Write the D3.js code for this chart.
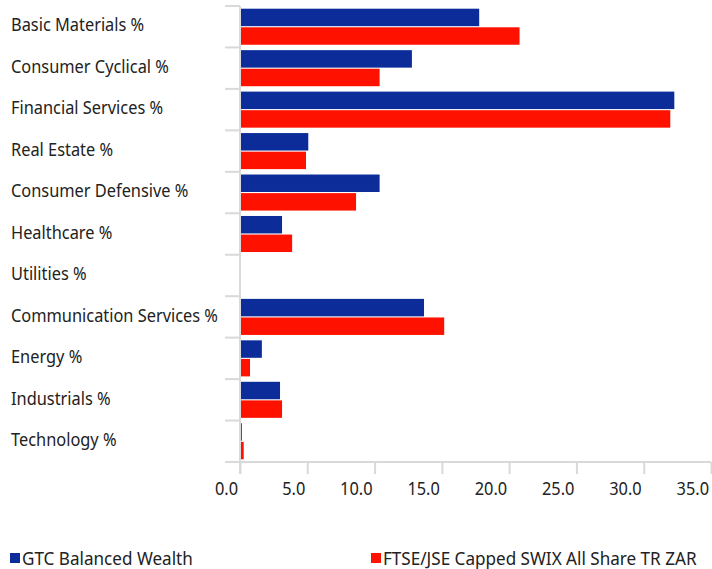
<!DOCTYPE html>
<html>
<head>
<meta charset="utf-8">
<script src="https://d3js.org/d3.v7.min.js"></script>
<style>
  body { margin: 0; background: #fff; }
  text { font-family: "Noto Sans", sans-serif; fill: #222; }
</style>
</head>
<body>
<svg class="chart" width="712" height="569"></svg>
<script>
// categories and values (%)
const categories = ["Basic Materials %", "Consumer Cyclical %", "Financial Services %", "Real Estate %",
  "Consumer Defensive %", "Healthcare %", "Utilities %", "Communication Services %",
  "Energy %", "Industrials %", "Technology %"];
const gtcValues  = [17.7, 12.7, 32.2, 5.0, 10.3, 3.05, 0, 13.6, 1.55, 2.9, 0.06];
const swixValues = [20.7, 10.3, 31.9, 4.83, 8.55, 3.8, 0, 15.1, 0.67, 3.05, 0.2];
const seriesNames = ["GTC Balanced Wealth", "FTSE/JSE Capped SWIX All Share TR ZAR"];
const seriesColors = ["#0c2d99", "#ff1100"];
const xTicks = [0, 5, 10, 15, 20, 25, 30, 35];

const svg = d3.select("svg.chart");
const margin = {top: 6, right: 1, bottom: 107, left: 240};
const width = 712 - margin.left - margin.right,
      height = 569 - margin.top - margin.bottom;

// narrow the font a bit so it looks like the original
const sx = 0.91;

const g = svg.append("g").attr("transform", "translate(" + margin.left + "," + margin.top + ")");

const x = d3.scaleLinear().domain([0, 35]).range([0, width]);
const y = d3.scaleBand().domain(categories).range([0, height]);
const inner = d3.scaleBand().domain([0, 1]).range([2.7, y.bandwidth() - 2.7]).paddingInner(0.06);

// category separators (ticks on left)
g.selectAll("line.sep")
  .data(d3.range(categories.length + 1))
  .enter().append("line")
    .attr("x1", -15).attr("x2", 0)
    .attr("y1", i => i * y.step()).attr("y2", i => i * y.step())
    .attr("stroke", "#d9d9d9").attr("stroke-width", 2);

// labels
g.selectAll("text.cat")
  .data(categories)
  .enter().append("text")
    .attr("transform", "scale(" + sx + ",1)")
    .attr("x", (11 - margin.left) / sx)
    .attr("y", d => y(d) + y.bandwidth() / 2 + 4.7)
    .style("font-size", "18px")
    .text(d => d);

// bars
const series = [gtcValues, swixValues];
series.forEach((vals, s) => {
  g.selectAll("rect.s" + s)
    .data(vals)
    .enter().append("rect")
      .attr("x", x(0) + 1)
      .attr("y", (d, i) => y(categories[i]) + inner(s))
      .attr("width", d => Math.max(0, x(d) - x(0)))
      .attr("height", inner.bandwidth())
      .attr("fill", seriesColors[s]);
});

// axis lines
g.append("line")
  .attr("x1", 0).attr("x2", 0).attr("y1", 0).attr("y2", height + 12)
  .attr("stroke", "#d9d9d9").attr("stroke-width", 2);
g.append("line")
  .attr("x1", -15).attr("x2", width).attr("y1", height).attr("y2", height)
  .attr("stroke", "#d9d9d9").attr("stroke-width", 2);

// x ticks
const xAxis = g.append("g").attr("transform", "translate(0," + height + ")")
  .call(d3.axisBottom(x).tickValues(xTicks).tickFormat(d3.format(".1f")).tickSize(12));
xAxis.select(".domain").remove();
xAxis.selectAll(".tick line").attr("stroke", "#d9d9d9").attr("stroke-width", 2);
xAxis.selectAll(".tick text")
  .attr("transform", "scale(" + sx + ",1)")
  .attr("x", -2.5 / sx)
  .attr("y", 33)
  .attr("dy", null)
  .attr("text-anchor", "end")
  .style("font-family", "'Noto Sans', sans-serif")
  .style("font-size", "18px").attr("fill", "#222");

// legend
const legendX = [10, 371];
const lsx = 0.9;
seriesNames.forEach((name, s) => {
  svg.append("rect")
    .attr("x", legendX[s]).attr("y", 553).attr("width", 10).attr("height", 10)
    .attr("fill", seriesColors[s]);
  svg.append("text")
    .attr("transform", "scale(" + lsx + ",1)")
    .attr("x", (legendX[s] + 12) / lsx).attr("y", 565)
    .style("font-size", "19px")
    .text(name);
});
</script>
</body>
</html>
